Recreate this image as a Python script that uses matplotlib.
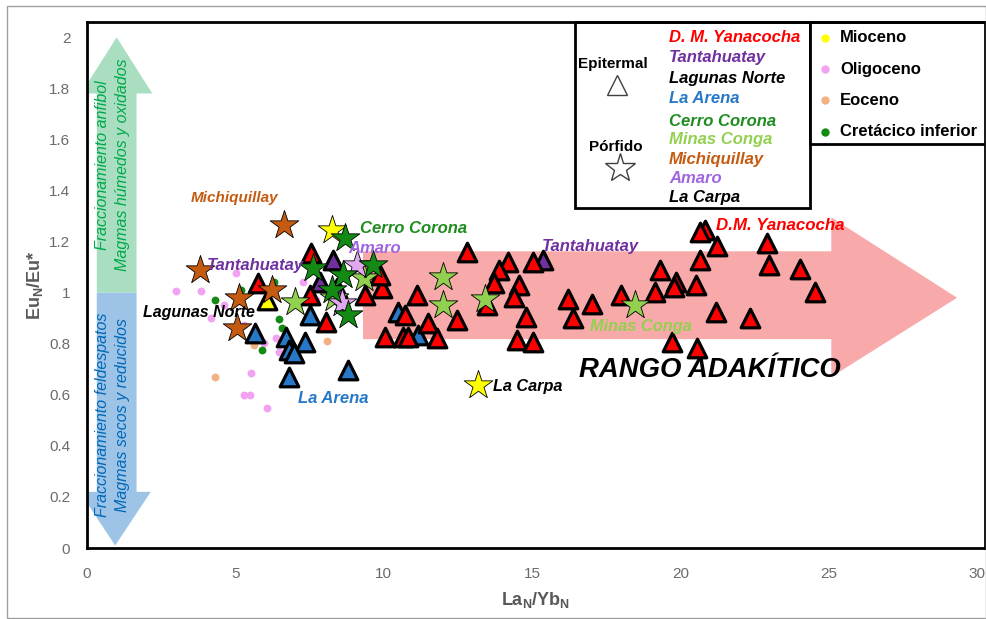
import matplotlib.pyplot as plt
from matplotlib.patches import Polygon, Rectangle

plt.rcParams['font.family'] = ['Liberation Sans', 'DejaVu Sans']
plt.rcParams['mathtext.fontset'] = 'custom'
plt.rcParams['mathtext.rm'] = 'Liberation Sans:bold'
plt.rcParams['mathtext.it'] = 'Liberation Sans:bold'
plt.rcParams['mathtext.bf'] = 'Liberation Sans:bold'
plt.rcParams['mathtext.default'] = 'bf'

# Epitermal (triangulos)
yanacocha_x = [7.56, 5.75, 7.50, 9.36, 9.93, 9.86, 8.05, 10.04, 10.65,
               12.81, 14.19, 13.89, 15.04, 13.72, 14.56, 14.39, 13.48, 14.79,
               11.12, 10.72, 11.49, 12.47, 10.82, 11.79, 14.49, 15.04,
               16.21, 17.02, 16.38, 18.00,
               20.83, 20.66, 21.23, 22.92, 20.66, 19.31, 22.99, 24.04, 19.86,
               19.79, 20.53, 19.14, 24.54, 21.20, 22.35, 19.72, 20.56]
yanacocha_y = [1.155, 1.037, 0.990, 0.990, 1.018, 1.068, 0.885, 0.826, 0.826,
               1.159, 1.119, 1.088, 1.119, 1.037, 1.029, 0.982, 0.951, 0.904,
               0.990, 0.912, 0.881, 0.892, 0.826, 0.822, 0.814, 0.806,
               0.975, 0.955, 0.900, 0.990,
               1.245, 1.237, 1.182, 1.194, 1.127, 1.088, 1.108, 1.092, 1.041,
               1.022, 1.029, 1.002, 1.002, 0.924, 0.900, 0.806, 0.783]
tantahuatay_x = [8.29, 7.84, 8.42, 15.37]
tantahuatay_y = [1.127, 1.041, 1.018, 1.127]
lagunas_x = [6.08]
lagunas_y = [0.971]
arena_x = [7.50, 5.65, 6.72, 7.34, 6.82, 6.99, 6.82, 8.79, 10.49, 11.16]
arena_y = [0.912, 0.841, 0.826, 0.806, 0.775, 0.763, 0.669, 0.697, 0.924, 0.834]

# Porfido (estrellas)
michiquillay_x = [6.65, 3.80, 6.25, 5.11, 5.04]
michiquillay_y = [1.264, 1.088, 1.010, 0.978, 0.861]
mioceno_star_x = [8.25, 13.18]
mioceno_star_y = [1.245, 0.638]
corona_x = [8.69, 7.60, 8.62, 9.63, 8.79, 8.25]
corona_y = [1.213, 1.096, 1.068, 1.108, 0.912, 1.010]
conga_x = [7.02, 8.32, 9.33, 12.00, 12.00, 13.42, 18.47]
conga_y = [0.963, 0.978, 1.057, 1.061, 0.951, 0.975, 0.951]
amaro_x = [9.09, 8.59]
amaro_y = [1.108, 0.959]

# Edades (puntos)
oligoceno_x = [2.99, 3.83, 5.03, 4.63, 4.19, 5.30, 5.97, 6.38, 6.48, 5.54, 5.30, 5.50, 6.07, 7.27, 7.70]
oligoceno_y = [1.006, 1.006, 1.076, 0.951, 0.900, 0.873, 0.802, 0.822, 0.767, 0.685, 0.599, 0.599, 0.548, 1.041, 0.971]
eoceno_x = [4.33, 8.08, 5.64]
eoceno_y = [0.669, 0.810, 0.795]
cretacico_x = [4.30, 5.20, 6.31, 6.48, 6.58, 5.91]
cretacico_y = [0.971, 1.010, 1.041, 0.896, 0.861, 0.775]

legend_names = ['D. M. Yanacocha', 'Tantahuatay', 'Lagunas Norte', 'La Arena',
                'Cerro Corona', 'Minas Conga', 'Michiquillay', 'Amaro', 'La Carpa']
legend_ages = ['Mioceno', 'Oligoceno', 'Eoceno', 'Cretácico inferior']

RED = '#FF0000'
PURPLE = '#7030A0'
BLUE = '#2878C8'
DKGREEN = '#138A13'
LTGREEN = '#92D050'
BROWN = '#C55A11'
VIOLET = '#A066E0'
PLUM = '#E0A8F0'
YELLOW = '#FFFF00'
PINK = '#F2A2F2'
PEACH = '#F4B183'
name_colors = [RED, PURPLE, 'black', BLUE, '#1E8C1E', LTGREEN, BROWN, VIOLET, 'black']
age_colors = [YELLOW, PINK, PEACH, DKGREEN]

fig = plt.figure(figsize=(9.87, 6.19), dpi=100)
ax = fig.add_axes([87 / 987, 71 / 619, 898 / 987, 526 / 619])
ax.set_xlim(0, 30.26)
ax.set_ylim(0, 2.06)

# borde exterior
fig.patches.append(Rectangle((7 / 987, 1 / 619), 979 / 987, 612 / 619, transform=fig.transFigure,
                             fill=False, ec='#a0a0a0', lw=1))

# flechas
ax.add_patch(Polygon([(9.30, 0.818), (25.08, 0.818), (25.08, 0.67), (29.32, 0.98),
                      (25.08, 1.295), (25.08, 1.162), (9.30, 1.162)],
                     closed=True, fc='#F8AAAA', ec='none', zorder=1))
ax.add_patch(Polygon([(0.33, 1.0), (0.33, 1.78), (-0.2, 1.78), (1.0, 2.0), (2.2, 1.78),
                      (1.67, 1.78), (1.67, 1.0)], closed=True, fc='#A9DFC0', ec='none', zorder=1))
ax.add_patch(Polygon([(0.33, 1.0), (0.33, 0.22), (-0.25, 0.22), (0.95, 0.01), (2.15, 0.22),
                      (1.67, 0.22), (1.67, 1.0)], closed=True, fc='#9DC3E6', ec='none', zorder=1))
narrow = ['Liberation Sans Narrow', 'Liberation Sans']
ax.text(0.86, 1.50, 'Fraccionamiento anfibol\nMagmas húmedos y oxidados', rotation=90,
        ha='center', va='center', color='#00A84A', fontsize=11.5, style='italic',
        family=narrow, linespacing=1.45, zorder=2)
ax.text(0.86, 0.52, 'Fraccionamiento feldespatos\nMagmas secos y reducidos', rotation=90,
        ha='center', va='center', color='#0068B8', fontsize=11.5, style='italic',
        family=narrow, linespacing=1.45, zorder=2)

# puntos
ax.scatter(oligoceno_x, oligoceno_y, s=32, c=PINK, lw=0, zorder=2)
ax.scatter(eoceno_x, eoceno_y, s=32, c=PEACH, lw=0, zorder=2)
ax.scatter(cretacico_x, cretacico_y, s=32, c=DKGREEN, lw=0, zorder=2)

# triangulos
tri = dict(marker='^', s=180, edgecolors='black', linewidths=2.3, zorder=3)
ax.scatter(arena_x, arena_y, c=BLUE, **tri)
ax.scatter(tantahuatay_x, tantahuatay_y, c=PURPLE, **tri)
ax.scatter(lagunas_x, lagunas_y, c=YELLOW, **tri)
ax.scatter(yanacocha_x, yanacocha_y, c=RED, **tri)

# estrellas
star = dict(marker='*', s=470, edgecolors='black', linewidths=0.6, zorder=4)
ax.scatter(michiquillay_x, michiquillay_y, c=BROWN, **star)
ax.scatter(mioceno_star_x, mioceno_star_y, c=YELLOW, **star)
ax.scatter(conga_x, conga_y, c=LTGREEN, **star)
ax.scatter(amaro_x, amaro_y, c=PLUM, **star)
ax.scatter(corona_x, corona_y, c=DKGREEN, **star)

# etiquetas
lab = dict(fontweight='bold', style='italic', va='center', zorder=5)
ax.text(4.98, 1.37, 'Michiquillay', color=BROWN, ha='center', fontsize=11, **lab)
ax.text(9.19, 1.252, 'Cerro Corona', color='#1E8C1E', fontsize=12, **lab)
ax.text(8.79, 1.174, 'Amaro', color=VIOLET, fontsize=12, **lab)
ax.text(4.04, 1.108, 'Tantahuatay', color=PURPLE, fontsize=12, **lab)
ax.text(1.88, 0.924, 'Lagunas Norte', color='black', fontsize=11.5, **lab)
ax.text(7.10, 0.587, 'La Arena', color=BLUE, fontsize=12, **lab)
ax.text(13.68, 0.634, 'La Carpa', color='black', fontsize=11.7, **lab)
ax.text(15.34, 1.182, 'Tantahuatay', color=PURPLE, fontsize=12, **lab)
ax.text(21.19, 1.264, 'D.M. Yanacocha', color=RED, fontsize=12.2, **lab)
ax.text(16.95, 0.869, 'Minas Conga', color=LTGREEN, fontsize=11.8, **lab)
ax.text(20.99, 0.697, 'RANGO ADAKÍTICO', fontsize=19.8, fontweight='bold', style='italic',
        ha='center', va='center', zorder=5)

# leyenda
tr = ax.transAxes
ax.add_patch(Rectangle((0.5434, 0.6464), 0.2617, 0.3536, transform=tr, fc='white',
                       ec='black', lw=2, zorder=6, clip_on=False))
ax.add_patch(Rectangle((0.8051, 0.7681), 0.1959, 0.2319, transform=tr, fc='white',
                       ec='black', lw=2, zorder=6, clip_on=False))
ax.text(0.5857, 0.920, 'Epitermal', transform=tr, fontsize=11, fontweight='bold',
        ha='center', va='center', zorder=7)
ax.plot([0.590], [0.880], transform=tr, marker='^', ms=14, mfc='white', mec='#404040',
        mew=1, zorder=7, clip_on=False)
ax.text(0.589, 0.762, 'Pórfido', transform=tr, fontsize=11, fontweight='bold',
        ha='center', va='center', zorder=7)
ax.plot([0.5935], [0.722], transform=tr, marker='*', ms=22, mfc='white', mec='#404040',
        mew=1, zorder=7, clip_on=False)
name_y = [0.9696, 0.9316, 0.8935, 0.8555, 0.8099, 0.7757, 0.7395, 0.7034, 0.6673]
for name, color, yy in zip(legend_names, name_colors, name_y):
    ax.text(0.648, yy, name, transform=tr, color=color, fontsize=12, fontweight='bold',
            style='italic', va='center', zorder=7)
age_y = [0.9696, 0.9106, 0.8517, 0.7909]
for name, color, yy in zip(legend_ages, age_colors, age_y):
    ax.plot([0.8218], [yy], transform=tr, marker='o', ms=6, mfc=color, mec='none',
            zorder=7, clip_on=False)
    ax.text(0.8385, yy, name, transform=tr, fontsize=12, fontweight='bold',
            va='center', zorder=7)

# ejes
ax.set_xticks([0, 5, 10, 15, 20, 25, 30])
ax.set_yticks([0, 0.2, 0.4, 0.6, 0.8, 1, 1.2, 1.4, 1.6, 1.8, 2])
ax.set_yticklabels(['0', '0.2', '0.4', '0.6', '0.8', '1', '1.2', '1.4', '1.6', '1.8', '2'])
ax.tick_params(length=0, labelsize=11, labelcolor='#6b6b6b')
ax.tick_params(axis='x', pad=14)
ax.tick_params(axis='y', pad=12)
for sp in ax.spines.values():
    sp.set_linewidth(2)
    sp.set_color('black')
    sp.set_zorder(8)
ax.set_xlabel('La$_N$/Yb$_N$', fontsize=13, color='#595959', fontweight='bold', labelpad=6)
ax.set_ylabel('Eu$_N$/Eu*', fontsize=13, color='#595959', fontweight='bold', labelpad=3)

fig.savefig('out.png', dpi=100)
